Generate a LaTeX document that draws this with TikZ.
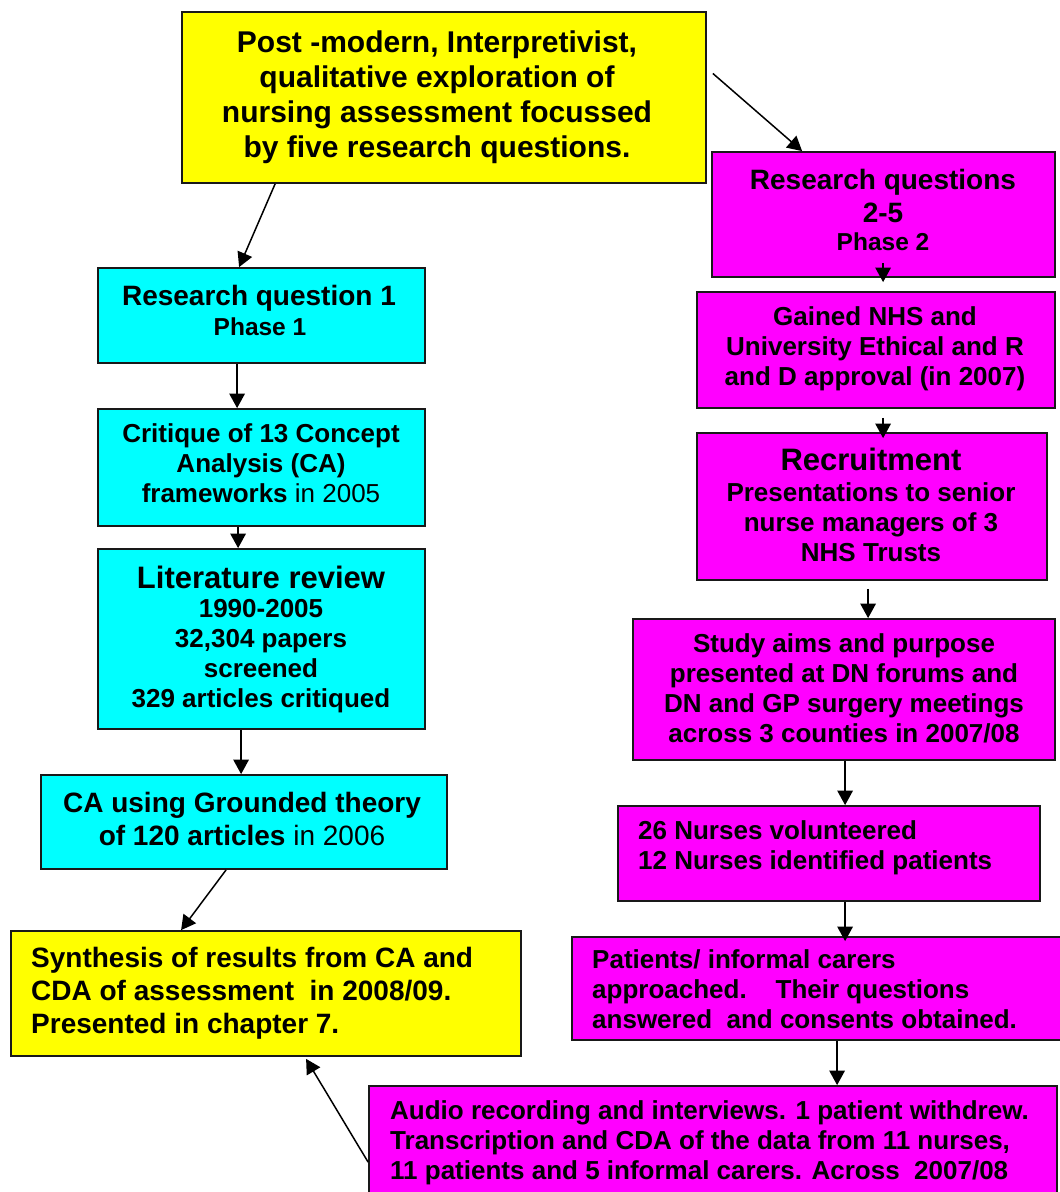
\documentclass[tikz,border=0pt]{standalone}
\usepackage{fontspec}
\setmainfont{Liberation Sans}
\usetikzlibrary{arrows.meta,fit}

\definecolor{qyellow}{RGB}{255,255,0}
\definecolor{qcyan}{RGB}{0,255,255}
\definecolor{qmagenta}{RGB}{255,0,255}
\definecolor{edge}{RGB}{25,25,25}

% font sizes (1 unit = 1pt)
\newcommand{\fsA}{\bfseries\fontsize{30}{35}\selectfont}
\newcommand{\fsB}{\bfseries\fontsize{31}{33}\selectfont}
\newcommand{\fsC}{\bfseries\fontsize{28}{33}\selectfont}
\newcommand{\fsD}{\bfseries\fontsize{26}{29.7}\selectfont}
\newcommand{\fsE}{\bfseries\fontsize{24.5}{28}\selectfont}

\begin{document}
\begin{tikzpicture}[x=1pt, y=-1pt,
  box/.style={draw=edge, line width=1.8pt, inner sep=0pt, rectangle},
  txt/.style={inner sep=0pt, text=black},
  link/.style={line width=1.5pt, draw=black, -{Triangle[length=14.5pt,width=15.5pt]}},
]
\useasboundingbox (0,0) rectangle (1060,1192);
\fill[white] (0,0) rectangle (1060,1192);

% ---------- boxes ----------
\node[box, fill=qyellow,  fit={(182,12) (706,183)}]    (aims)  {};
\node[box, fill=qmagenta, fit={(712,152) (1055,277)}]  (rq25)  {};
\node[box, fill=qmagenta, fit={(697,292) (1055,408)}]  (eth)   {};
\node[box, fill=qmagenta, fit={(697,433) (1047,580)}]  (rec)   {};
\node[box, fill=qmagenta, fit={(633,619) (1055,760)}]  (study) {};
\node[box, fill=qmagenta, fit={(618,806) (1040,901)}]  (nurse) {};
\node[box, fill=qmagenta, fit={(572,937) (1064,1040)}] (pat)   {};
\node[box, fill=qmagenta, fit={(369,1086) (1057,1196)}] (audio) {};
\node[box, fill=qcyan,    fit={(98,268) (425,363)}]    (rq1)   {};
\node[box, fill=qcyan,    fit={(98,409) (425,526)}]    (crit)  {};
\node[box, fill=qcyan,    fit={(98,549) (425,729)}]    (lit)   {};
\node[box, fill=qcyan,    fit={(41,775) (447,869)}]    (ca)    {};
\node[box, fill=qyellow,  fit={(11,931) (521,1056)}]   (syn)   {};

% ---------- texts (anchored at the baseline of the last line) ----------
\node[txt, anchor=base, align=center, font=\fsA] (aims-t) at (437,157)
  {Post -modern, Interpretivist,\\qualitative exploration of\\nursing assessment focussed\\by five research questions.};

\node[txt, anchor=base, align=center, font=\fsC] (rq25-t) at (883,222)
  {Research questions\\2-5};
\node[txt, anchor=base, align=center, font=\fsE] (rq25-p) at (883,250) {Phase 2};

\node[txt, anchor=base, align=center, font=\fsD] (eth-t) at (875,385)
  {Gained NHS and\\University Ethical and R\\and D approval (in 2007)};

\node[txt, anchor=base, align=center, font=\fsB] (rec-h) at (871,470) {Recruitment};
\node[txt, anchor=base, align=center, font=\fsD] (rec-t) at (871,561)
  {Presentations to senior\\nurse managers of 3\\NHS Trusts};

\node[txt, anchor=base, align=center, font=\fsD] (study-t) at (844,742)
  {Study aims and purpose\\presented at DN forums and\\DN and GP surgery meetings\\across 3 counties in 2007/08};

\node[txt, anchor=base west, align=left, font=\fsD] (nurse-t) at (638,869)
  {26 Nurses volunteered\\12 Nurses identified patients};

\node[txt, anchor=base west, align=left, font=\fsD] (pat-t) at (592,1028)
  {Patients/ informal carers\\approached.\ \ \ \ Their questions\\answered\ \ and consents obtained.};

\node[txt, anchor=base west, align=left, font=\fsD] (audio-t) at (390,1179)
  {Audio recording and interviews. 1 patient withdrew.\\Transcription and CDA of the data from 11 nurses,\\11 patients and 5 informal carers. Across\ \ 2007/08};

\node[txt, anchor=base, align=center, font=\fsC] (rq1-t) at (259,305) {Research question 1};
\node[txt, anchor=base, align=center, font=\fsE] (rq1-p) at (260,335) {Phase 1};

\node[txt, anchor=base, align=center, font=\fsD] (crit-t) at (261,502)
  {Critique of 13 Concept\\Analysis (CA)\\frameworks {\mdseries in 2005}};

\node[txt, anchor=base, align=center, font=\fsB] (lit-h) at (261,588) {Literature review};
\node[txt, anchor=base, align=center, font=\fsD] (lit-t) at (261,707)
  {1990-2005\\32,304 papers\\screened\\329 articles critiqued};

\node[txt, anchor=base, align=center, font=\fsC] (ca-t) at (242,845)
  {CA using Grounded theory\\of 120 articles {\mdseries in 2006}};

\node[txt, anchor=base west, align=left, font=\fsC] (syn-t) at (31,1033)
  {Synthesis of results from CA and\\CDA of assessment\ \ in 2008/09.\\Presented in chapter 7.};

% ---------- connectors ----------
\draw[link] ([xshift=94pt]aims.south west) -- ([xshift=142pt]rq1.north west);
\draw[link] ([xshift=6pt,yshift=24pt]aims.east) -- ([xshift=91pt]rq25.north west);

\draw[link] ([xshift=172pt,yshift=15pt]rq25.south west) -- ([xshift=187pt,yshift=9pt]eth.north west);
\draw[link] ([xshift=187pt,yshift=-9pt]eth.south west) -- ([xshift=187pt,yshift=-6pt]rec.north west);
\draw[link] ([xshift=172pt,yshift=-8pt]rec.south west) -- ([xshift=236pt]study.north west);
\draw[link] ([xshift=213pt]study.south west) -- ([xshift=228pt]nurse.north west);
\draw[link] ([xshift=228pt]nurse.south west) -- ([xshift=274pt,yshift=-5pt]pat.north west);
\draw[link] ([xshift=266pt]pat.south west) -- ([xshift=469pt]audio.north west);

\draw[link] ([xshift=140pt]rq1.south west) -- ([xshift=140pt]crit.north west);
\draw[link] ([xshift=141pt]crit.south west) -- ([xshift=141pt]lit.north west);
\draw[link] ([xshift=144pt]lit.south west) -- ([xshift=201pt]ca.north west);
\draw[link] ([xshift=186pt]ca.south west) -- ([xshift=171pt]syn.north west);
\draw[link] ([yshift=-77pt]audio.north west) -- ([xshift=296pt,yshift=-2pt]syn.south west);
\end{tikzpicture}
\end{document}
